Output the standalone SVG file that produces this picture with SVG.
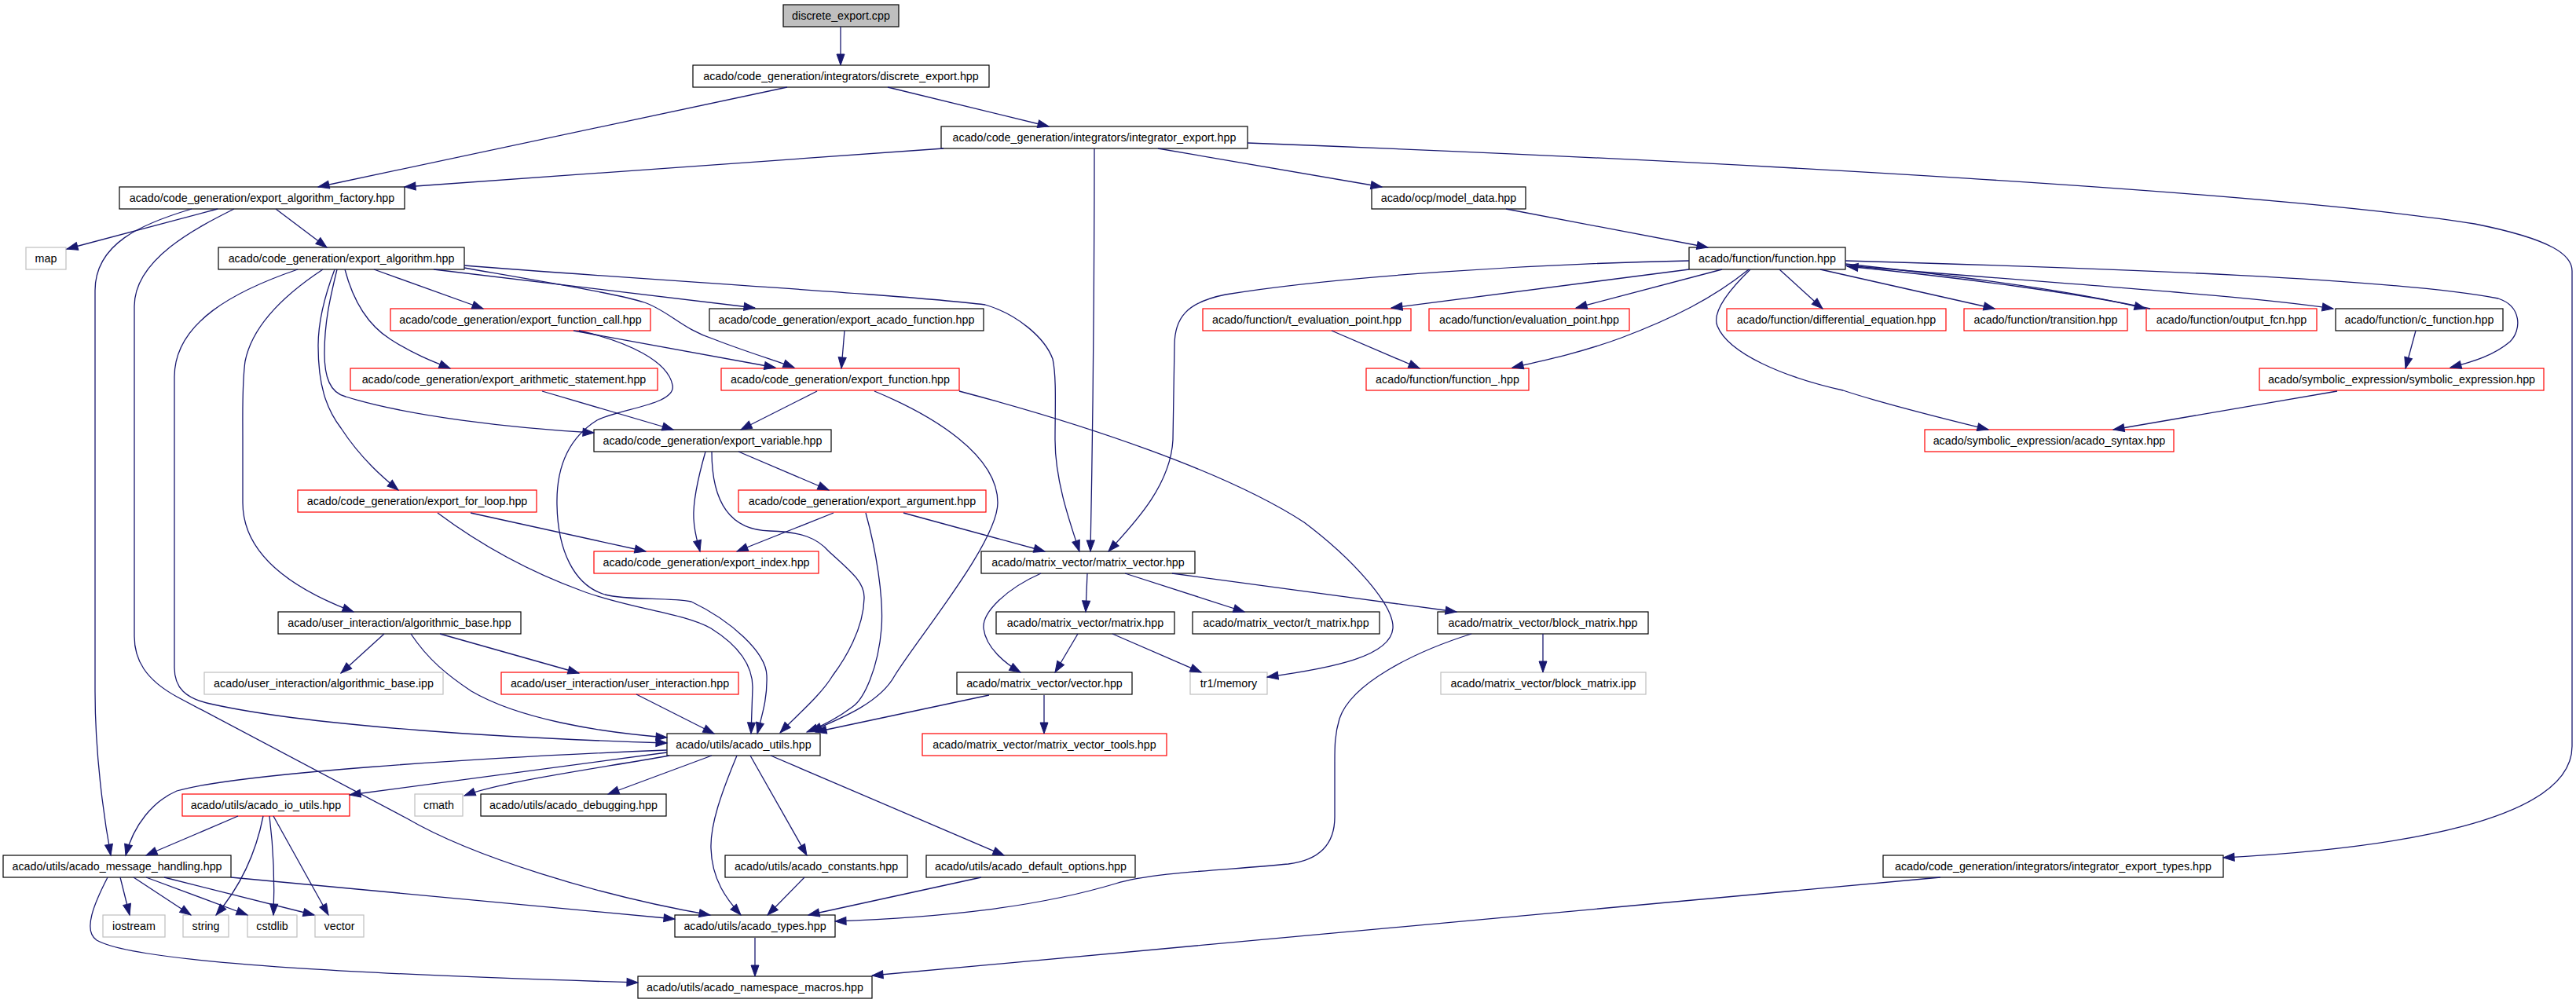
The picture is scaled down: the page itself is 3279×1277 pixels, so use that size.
<svg xmlns="http://www.w3.org/2000/svg" width="3279" height="1277" viewBox="0 0 3279 1277">
<style>
rect{fill:#fff;stroke:#000;stroke-width:1.2}
rect.r{stroke:#ff0000}
rect.g{stroke:#bfbfbf}
rect.root{fill:#bfbfbf}
text{font-family:"Liberation Sans",Arial,sans-serif;font-size:14.3px;text-anchor:middle;fill:#000}
.e path{fill:none;stroke:#191970;stroke-width:1.3;marker-end:url(#a)}
</style>
<defs>
<marker id="a" markerUnits="userSpaceOnUse" markerWidth="14" markerHeight="10" refX="14" refY="5" orient="auto" overflow="visible"><path d="M0,0 L14,5 L0,10 z" fill="#191970" stroke="#191970"/></marker>
</defs>
<rect x="0" y="0" width="3279" height="1277" style="fill:#fff;stroke:none"/>
<g id="nodes">
<g id="n_cpp"><rect class="root" x="997" y="6" width="147" height="28"/><text x="1070.5" y="25">discrete_export.cpp</text></g>
<g id="n_dehpp"><rect x="882" y="83" width="377" height="28"/><text x="1070.5" y="102">acado/code_generation/integrators/discrete_export.hpp</text></g>
<g id="n_iehpp"><rect x="1198" y="161" width="390" height="28"/><text x="1393" y="180">acado/code_generation/integrators/integrator_export.hpp</text></g>
<g id="n_factory"><rect x="152" y="238" width="363" height="28"/><text x="333.5" y="257">acado/code_generation/export_algorithm_factory.hpp</text></g>
<g id="n_model"><rect x="1746" y="238" width="196" height="28"/><text x="1844" y="257">acado/ocp/model_data.hpp</text></g>
<g id="n_map"><rect class="g" x="33" y="315" width="51" height="28"/><text x="58.5" y="334">map</text></g>
<g id="n_ealg"><rect x="278" y="315" width="313" height="28"/><text x="434.5" y="334">acado/code_generation/export_algorithm.hpp</text></g>
<g id="n_func"><rect x="2150" y="315" width="199" height="28"/><text x="2249.5" y="334">acado/function/function.hpp</text></g>
<g id="n_efcall"><rect class="r" x="497" y="393" width="331" height="28"/><text x="662.5" y="412">acado/code_generation/export_function_call.hpp</text></g>
<g id="n_eacado"><rect x="903" y="393" width="349" height="28"/><text x="1077.5" y="412">acado/code_generation/export_acado_function.hpp</text></g>
<g id="n_tevp"><rect class="r" x="1531" y="393" width="265" height="28"/><text x="1663.5" y="412">acado/function/t_evaluation_point.hpp</text></g>
<g id="n_evp"><rect class="r" x="1819" y="393" width="255" height="28"/><text x="1946.5" y="412">acado/function/evaluation_point.hpp</text></g>
<g id="n_diffeq"><rect class="r" x="2198" y="393" width="279" height="28"/><text x="2337.5" y="412">acado/function/differential_equation.hpp</text></g>
<g id="n_trans"><rect class="r" x="2500" y="393" width="208" height="28"/><text x="2604" y="412">acado/function/transition.hpp</text></g>
<g id="n_outfcn"><rect class="r" x="2732" y="393" width="217" height="28"/><text x="2840.5" y="412">acado/function/output_fcn.hpp</text></g>
<g id="n_cfunc"><rect x="2973" y="393" width="213" height="28"/><text x="3079.5" y="412">acado/function/c_function.hpp</text></g>
<g id="n_arith"><rect class="r" x="446" y="469" width="391" height="28"/><text x="641.5" y="488">acado/code_generation/export_arithmetic_statement.hpp</text></g>
<g id="n_efunc"><rect class="r" x="918" y="469" width="303" height="28"/><text x="1069.5" y="488">acado/code_generation/export_function.hpp</text></g>
<g id="n_func_"><rect class="r" x="1739" y="469" width="207" height="28"/><text x="1842.5" y="488">acado/function/function_.hpp</text></g>
<g id="n_symexpr"><rect class="r" x="2876" y="469" width="362" height="28"/><text x="3057" y="488">acado/symbolic_expression/symbolic_expression.hpp</text></g>
<g id="n_evar"><rect x="756" y="547" width="302" height="28"/><text x="907" y="566">acado/code_generation/export_variable.hpp</text></g>
<g id="n_syntax"><rect class="r" x="2450" y="547" width="317" height="28"/><text x="2608.5" y="566">acado/symbolic_expression/acado_syntax.hpp</text></g>
<g id="n_eforloop"><rect class="r" x="379" y="624" width="304" height="28"/><text x="531" y="643">acado/code_generation/export_for_loop.hpp</text></g>
<g id="n_earg"><rect class="r" x="940" y="624" width="315" height="28"/><text x="1097.5" y="643">acado/code_generation/export_argument.hpp</text></g>
<g id="n_eindex"><rect class="r" x="756" y="702" width="286" height="28"/><text x="899" y="721">acado/code_generation/export_index.hpp</text></g>
<g id="n_mv"><rect x="1249" y="702" width="272" height="28"/><text x="1385" y="721">acado/matrix_vector/matrix_vector.hpp</text></g>
<g id="n_algbase"><rect x="354" y="779" width="309" height="28"/><text x="508.5" y="798">acado/user_interaction/algorithmic_base.hpp</text></g>
<g id="n_matrix"><rect x="1268" y="779" width="227" height="28"/><text x="1381.5" y="798">acado/matrix_vector/matrix.hpp</text></g>
<g id="n_tmatrix"><rect x="1518" y="779" width="238" height="28"/><text x="1637" y="798">acado/matrix_vector/t_matrix.hpp</text></g>
<g id="n_bmatrix"><rect x="1830" y="779" width="268" height="28"/><text x="1964" y="798">acado/matrix_vector/block_matrix.hpp</text></g>
<g id="n_algipp"><rect class="g" x="260" y="856" width="304" height="28"/><text x="412" y="875">acado/user_interaction/algorithmic_base.ipp</text></g>
<g id="n_uinter"><rect class="r" x="638" y="856" width="302" height="28"/><text x="789" y="875">acado/user_interaction/user_interaction.hpp</text></g>
<g id="n_vector"><rect x="1218" y="856" width="223" height="28"/><text x="1329.5" y="875">acado/matrix_vector/vector.hpp</text></g>
<g id="n_tr1"><rect class="g" x="1515" y="856" width="98" height="28"/><text x="1564" y="875">tr1/memory</text></g>
<g id="n_bmipp"><rect class="g" x="1834" y="856" width="261" height="28"/><text x="1964.5" y="875">acado/matrix_vector/block_matrix.ipp</text></g>
<g id="n_utils"><rect x="849" y="934" width="195" height="28"/><text x="946.5" y="953">acado/utils/acado_utils.hpp</text></g>
<g id="n_mvtools"><rect class="r" x="1174" y="934" width="311" height="28"/><text x="1329.5" y="953">acado/matrix_vector/matrix_vector_tools.hpp</text></g>
<g id="n_ioutils"><rect class="r" x="232" y="1011" width="213" height="28"/><text x="338.5" y="1030">acado/utils/acado_io_utils.hpp</text></g>
<g id="n_cmath"><rect class="g" x="528" y="1011" width="61" height="28"/><text x="558.5" y="1030">cmath</text></g>
<g id="n_debug"><rect x="612" y="1011" width="236" height="28"/><text x="730" y="1030">acado/utils/acado_debugging.hpp</text></g>
<g id="n_msg"><rect x="4" y="1089" width="290" height="28"/><text x="149" y="1108">acado/utils/acado_message_handling.hpp</text></g>
<g id="n_const"><rect x="923" y="1089" width="232" height="28"/><text x="1039" y="1108">acado/utils/acado_constants.hpp</text></g>
<g id="n_defopt"><rect x="1179" y="1089" width="266" height="28"/><text x="1312" y="1108">acado/utils/acado_default_options.hpp</text></g>
<g id="n_ietypes"><rect x="2397" y="1089" width="433" height="28"/><text x="2613.5" y="1108">acado/code_generation/integrators/integrator_export_types.hpp</text></g>
<g id="n_iostream"><rect class="g" x="131" y="1165" width="79" height="28"/><text x="170.5" y="1184">iostream</text></g>
<g id="n_string"><rect class="g" x="233" y="1165" width="58" height="28"/><text x="262" y="1184">string</text></g>
<g id="n_cstdlib"><rect class="g" x="315" y="1165" width="63" height="28"/><text x="346.5" y="1184">cstdlib</text></g>
<g id="n_vec"><rect class="g" x="401" y="1165" width="62" height="28"/><text x="432" y="1184">vector</text></g>
<g id="n_types"><rect x="859" y="1165" width="204" height="28"/><text x="961" y="1184">acado/utils/acado_types.hpp</text></g>
<g id="n_nsmacros"><rect x="812" y="1243" width="298" height="28"/><text x="961" y="1262">acado/utils/acado_namespace_macros.hpp</text></g>
</g>
<g id="edges" class="e">
<path d="M1070,34 L1070,83"/>
<path d="M1002,111 L405,238"/>
<path d="M1130,111 L1335,161"/>
<path d="M1201,189 L515,238"/>
<path d="M1393,189 C1393,400 1390,600 1388,702"/>
<path d="M1474,189 L1759,238"/>
<path d="M1588,182 C2200,205 2900,245 3150,285 C3250,305 3274,325 3274,345 L3274,950 C3274,1045 3050,1080 2830,1092"/>
<path d="M277,266 L85,317"/>
<path d="M351,266 L416,315"/>
<path d="M244,266 C180,285 121,310 121,370 L121,880 C121,960 132,1040 141,1089"/>
<path d="M298,266 C250,290 171,330 171,390 L171,810 C171,840 185,865 225,887 L518,1042 C600,1090 760,1140 904,1165"/>
<path d="M137,1117 C120,1150 105,1185 123,1197 C180,1230 550,1243 812,1251"/>
<path d="M153,1117 L165,1165"/>
<path d="M170,1117 L243,1165"/>
<path d="M186,1117 L315,1165"/>
<path d="M209,1117 L400,1165"/>
<path d="M294,1117 L859,1170"/>
<path d="M303,1039 L186,1089"/>
<path d="M335,1039 C325,1090 305,1130 275,1165"/>
<path d="M343,1039 C348,1080 350,1120 348,1165"/>
<path d="M348,1039 L418,1165"/>
<path d="M849,955 C600,965 300,985 225,1007 C195,1020 170,1050 160,1089"/>
<path d="M849,958 L445,1012"/>
<path d="M852,962 C750,980 640,995 591,1013"/>
<path d="M906,962 L774,1011"/>
<path d="M938,962 C918,1010 904,1050 905,1080 C906,1120 925,1145 943,1165"/>
<path d="M955,962 L1027,1089"/>
<path d="M981,962 L1278,1089"/>
<path d="M379,343 C300,370 222,410 222,480 L222,850 C222,875 235,890 272,897 C400,925 650,940 849,946"/>
<path d="M523,807 C545,840 570,860 600,880 C660,915 760,932 849,939"/>
<path d="M810,884 L909,934"/>
<path d="M737,421 C800,435 850,460 856,490 C862,515 790,520 760,535 C720,560 708,600 709,643 C710,700 730,745 770,757 C800,765 850,760 880,766 C930,790 975,830 976,860 C977,890 970,910 964,934"/>
<path d="M1113,498 C1190,530 1270,580 1270,640 C1270,690 1170,810 1139,860 C1120,895 1070,915 1032,931"/>
<path d="M906,575 C906,640 930,675 980,676 C1020,677 1040,685 1055,702 C1080,725 1100,740 1100,760 C1100,800 1075,840 1060,860 C1045,885 1015,910 993,933"/>
<path d="M1102,653 C1115,700 1125,760 1122,800 C1118,850 1100,890 1085,900 C1065,915 1045,925 1027,932"/>
<path d="M557,653 C620,700 680,730 740,752 C800,775 870,780 905,800 C945,825 958,850 958,875 L956,934"/>
<path d="M1259,885 L1038,932"/>
<path d="M1329,885 L1329,934"/>
<path d="M411,343 C370,370 322,410 312,460 C308,490 309,520 309,560 L309,640 C309,700 360,745 450,779"/>
<path d="M429,343 C420,380 413,410 413,450 C413,480 420,500 440,505 C520,530 650,545 756,551"/>
<path d="M426,343 C412,380 405,410 405,440 C405,490 415,520 434,545 C460,585 490,610 507,624"/>
<path d="M439,343 C450,385 470,415 497,432 C525,450 550,460 573,469"/>
<path d="M476,343 L615,393"/>
<path d="M552,343 L961,392"/>
<path d="M591,341 C700,360 790,375 820,385 C850,395 870,420 909,432 C950,448 990,460 1011,468"/>
<path d="M591,338 C800,355 1150,375 1254,388 C1295,400 1330,430 1340,457 C1345,480 1343,520 1343,560 C1343,610 1360,660 1374,702"/>
<path d="M730,421 L987,468"/>
<path d="M1075,421 L1071,469"/>
<path d="M1040,498 L943,547"/>
<path d="M1221,498 C1380,540 1560,600 1660,665 C1720,710 1775,770 1773,800 C1770,835 1700,850 1613,862"/>
<path d="M690,498 L857,547"/>
<path d="M898,575 C888,610 882,640 883,660 C884,680 888,690 891,702"/>
<path d="M940,575 L1055,624"/>
<path d="M1061,653 L938,702"/>
<path d="M1150,653 L1330,702"/>
<path d="M599,653 L822,702"/>
<path d="M489,807 L434,857"/>
<path d="M560,807 L737,857"/>
<path d="M1325,730 C1280,750 1250,780 1252,800 C1255,825 1280,845 1299,856"/>
<path d="M1384,730 L1382,779"/>
<path d="M1432,730 L1584,779"/>
<path d="M1492,730 L1854,779"/>
<path d="M1372,807 L1343,856"/>
<path d="M1416,807 L1529,856"/>
<path d="M1964,807 L1964,856"/>
<path d="M1873,807 C1800,830 1720,870 1705,915 C1699,935 1699,950 1699,970 L1699,1040 C1699,1075 1680,1095 1640,1100 C1560,1108 1470,1110 1420,1125 C1320,1155 1200,1168 1063,1173"/>
<path d="M961,1194 L961,1243"/>
<path d="M1024,1117 L977,1165"/>
<path d="M1249,1117 L1029,1165"/>
<path d="M2470,1117 L1110,1242"/>
<path d="M1917,266 L2174,315"/>
<path d="M2150,332 C1950,336 1700,352 1560,375 C1510,385 1495,405 1495,440 L1493,560 C1490,620 1440,670 1411,702"/>
<path d="M2150,343 L1771,392"/>
<path d="M2192,343 L2006,392"/>
<path d="M2226,343 C2180,380 2130,405 2064,430 C2010,450 1960,460 1925,468"/>
<path d="M2228,343 C2195,375 2180,400 2186,415 C2200,450 2270,480 2346,497 C2400,515 2470,532 2531,547"/>
<path d="M2265,343 L2320,393"/>
<path d="M2317,343 L2539,393"/>
<path d="M2349,336 C2500,352 2650,372 2731,393"/>
<path d="M2737,393 C2650,374 2500,354 2351,339"/>
<path d="M2349,338 C2600,360 2850,375 2970,393"/>
<path d="M2349,332 C2700,342 3050,355 3180,380 C3210,390 3210,420 3195,435 C3175,452 3150,460 3119,468"/>
<path d="M3075,421 L3062,469"/>
<path d="M2975,498 L2690,547"/>
<path d="M1695,421 L1807,469"/>
</g>
</svg>
